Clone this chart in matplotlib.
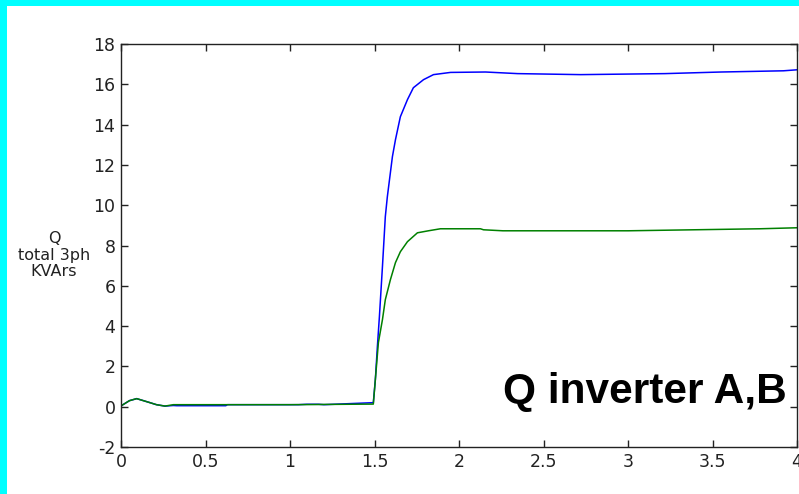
import numpy as np
import matplotlib
matplotlib.use("Agg")
import matplotlib.pyplot as plt
from matplotlib.patches import Rectangle

# time (s) and Q (kVAr)
t_blue = [0.0, 0.004, 0.05, 0.093, 0.16, 0.21, 0.26, 0.31, 0.33, 0.62, 0.63, 1.05, 1.10, 1.17, 1.20,
          1.493, 1.505, 1.517, 1.529, 1.547, 1.564, 1.576, 1.606, 1.624, 1.653, 1.695, 1.730,
          1.790, 1.849, 1.950, 2.157, 2.347, 2.72, 3.218, 3.55, 3.92, 4.0]
q_blue = [0.0, 0.06, 0.3, 0.40, 0.23, 0.10, 0.03, 0.06, 0.05, 0.05, 0.1, 0.1, 0.12, 0.12, 0.1,
          0.2, 1.34, 2.98, 4.47, 6.95, 9.43, 10.42, 12.41, 13.25, 14.39, 15.24, 15.83,
          16.23, 16.48, 16.59, 16.61, 16.53, 16.48, 16.53, 16.61, 16.67, 16.72]

t_green = [0.0, 0.004, 0.05, 0.093, 0.16, 0.21, 0.26, 0.31, 0.4, 1.0, 1.493,
           1.505, 1.523, 1.547, 1.564, 1.594, 1.624, 1.653, 1.695, 1.754, 1.819, 1.890,
           2.127, 2.145, 2.26, 3.0, 3.39, 3.78, 4.0]
q_green = [0.0, 0.06, 0.3, 0.40, 0.23, 0.10, 0.03, 0.1, 0.1, 0.1, 0.13,
           1.34, 3.18, 4.32, 5.31, 6.30, 7.15, 7.69, 8.19, 8.63, 8.73, 8.83,
           8.83, 8.78, 8.73, 8.73, 8.78, 8.83, 8.88]

x_ticks = [0, 0.5, 1, 1.5, 2, 2.5, 3, 3.5, 4]
x_labels = ["0", "0.5", "1", "1.5", "2", "2.5", "3", "3.5", "4"]
y_ticks = [-2, 0, 2, 4, 6, 8, 10, 12, 14, 16, 18]

plt.rcParams['font.family'] = ['DejaVu Sans']
plt.rcParams['axes.unicode_minus'] = False

fig = plt.figure(figsize=(7.99, 4.94), dpi=100)
fig.patch.set_facecolor('#00ffff')
fig.patches.append(Rectangle((7 / 799, 0), 1, 1 - 6 / 494, transform=fig.transFigure,
                             facecolor='white', edgecolor='none', zorder=-5))

ax = fig.add_axes([121 / 799, 1 - 447 / 494, 676 / 799, 403 / 494])
ax.set_zorder(2)
ax.plot(t_blue, q_blue, color='#0000ff', lw=1.1)
ax.plot(t_green, q_green, color='#008000', lw=1.1)

ax.set_xlim(0, 4)
ax.set_ylim(-2, 18)
ax.set_xticks(x_ticks)
ax.set_xticklabels(x_labels)
ax.set_yticks(y_ticks)
ax.tick_params(direction='in', length=5, top=True, right=True, labelsize=12.5,
               colors='#222222', width=1, pad=4)
for s in ax.spines.values():
    s.set_color('#222222')
    s.set_linewidth(1)

fig.text(54 / 799, 1 - 255 / 494, "Q\ntotal 3ph\nKVArs", ha='center', va='center',
         fontsize=11.5, linespacing=1.12, color='#222222')

ax.text(0.985, 0.136, "Q inverter A,B", transform=ax.transAxes, ha='right', va='center',
        fontsize=30.5, fontweight='bold', color='black', family=['Liberation Sans', 'DejaVu Sans'])

fig.savefig("out.png", dpi=100, facecolor=fig.get_facecolor())
